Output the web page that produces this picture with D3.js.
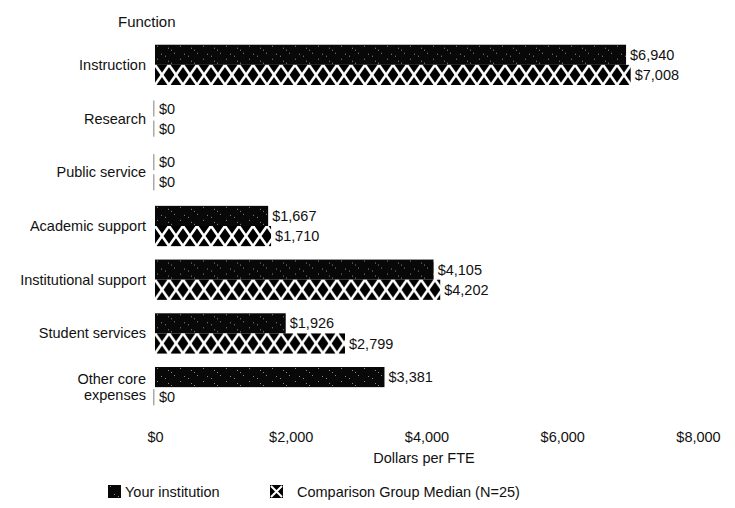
<!DOCTYPE html>
<html>
<head>
<meta charset="utf-8">
<script src="https://cdn.jsdelivr.net/npm/d3@7"></script>
<style>
  html, body { margin: 0; padding: 0; background: #fff; }
  text { font-family: "Liberation Sans", Arial, Helvetica, sans-serif; fill: #111; }
</style>
</head>
<body>
<svg id="chart" width="735" height="508"></svg>
<script>
const categories = ["Instruction", "Research", "Public service", "Academic support",
  "Institutional support", "Student services", "Other core expenses"];
const categoryLines = [["Instruction"], ["Research"], ["Public service"], ["Academic support"],
  ["Institutional support"], ["Student services"], ["Other core", "expenses"]];
const yourInstitution = [6940, 0, 0, 1667, 4105, 1926, 3381];
const comparisonMedian = [7008, 0, 0, 1710, 4202, 2799, 0];
const xTicks = [0, 2000, 4000, 6000, 8000];
const seriesNames = ["Your institution", "Comparison Group Median (N=25)"];

const svg = d3.select("#chart");
const FS = 14.5;

// patterns
const defs = svg.append("defs");
const dark = defs.append("pattern").attr("id", "dark").attr("patternUnits", "userSpaceOnUse")
  .attr("width", 23).attr("height", 13);
dark.append("rect").attr("width", 23).attr("height", 13).attr("fill", "#080808");
[[2,1],[13,3],[19,8],[6,9],[10,11],[16,5]].forEach(([a,b]) =>
  dark.append("rect").attr("x", a).attr("y", b).attr("width", 1).attr("height", 1).attr("fill", "#8a8a8a"));

const hatch = defs.append("pattern").attr("id", "hatch").attr("patternUnits", "userSpaceOnUse")
  .attr("width", 14).attr("height", 20);
hatch.append("rect").attr("width", 14).attr("height", 20).attr("fill", "#000");
hatch.append("path").attr("d", "M0,0 L14,20 M14,0 L0,20 M-7,10 L0,20 M7,-10 L14,0 M21,10 L14,20 M7,30 L0,20")
  .attr("stroke", "#fff").attr("stroke-width", 2.6).attr("fill", "none");

const x = d3.scaleLinear().domain([0, 8000]).range([155, 698]);
const y = d3.scaleBand().domain(categories).range([38, 414]).paddingInner(0.25).paddingOuter(0.125);
const bh = y.bandwidth() / 2;
const fmt = v => "$" + d3.format(",")(v);

// title
svg.append("text").attr("x", 118).attr("y", 27).attr("font-size", FS + 0.5).text("Function");

// category labels
categories.forEach((c, i) => {
  const lines = categoryLines[i];
  const cy = y(c) + y.bandwidth() / 2;
  const t = svg.append("text").attr("text-anchor", "end").attr("font-size", FS);
  lines.forEach((ln, k) => {
    t.append("tspan").attr("x", 146)
      .attr("y", cy + 5 + (k - (lines.length - 1) / 2) * 16).text(ln);
  });
});

// bars
const series = [yourInstitution, comparisonMedian];
series.forEach((vals, s) => {
  categories.forEach((c, i) => {
    const v = vals[i];
    const top = y(c) + s * bh;
    const g = svg.append("g").attr("transform", `translate(${x(0)},${top})`);
    const w = x(v) - x(0);
    if (w > 0) {
      g.append("rect").attr("x", 0).attr("y", 0).attr("width", w).attr("height", bh)
        .attr("fill", s === 0 ? "url(#dark)" : "url(#hatch)");
    } else {
      g.append("rect").attr("x", -2).attr("y", 2).attr("width", 1.5).attr("height", bh - 4)
        .attr("fill", "#aaa");
    }
    svg.append("text").attr("x", x(v) + 4).attr("y", top + bh / 2 + 5)
      .attr("font-size", FS).text(fmt(v));
  });
});

// x axis
const ax = svg.append("g").attr("transform", "translate(0,429)")
  .call(d3.axisBottom(x).tickValues(xTicks).tickSize(0).tickFormat(fmt));
ax.select(".domain").remove();
ax.selectAll("text").attr("font-size", FS).attr("font-family", "Liberation Sans, Arial, sans-serif").attr("fill", "#111");

svg.append("text").attr("x", 424).attr("y", 463).attr("text-anchor", "middle")
  .attr("font-size", FS).text("Dollars per FTE");

// legend
const lg = [[108, 125], [270, 297]];
seriesNames.forEach((n, s) => {
  const g = svg.append("g").attr("transform", `translate(${lg[s][0]},485)`);
  g.append("rect").attr("width", 13).attr("height", 13).attr("fill", s === 0 ? "url(#dark)" : "#000");
  if (s === 1) {
    g.append("path").attr("d", "M1,1 L12,12 M12,1 L1,12").attr("stroke", "#fff").attr("stroke-width", 2);
  }
  svg.append("text").attr("x", lg[s][1]).attr("y", 497).attr("font-size", FS).text(n);
});
</script>
</body>
</html>
